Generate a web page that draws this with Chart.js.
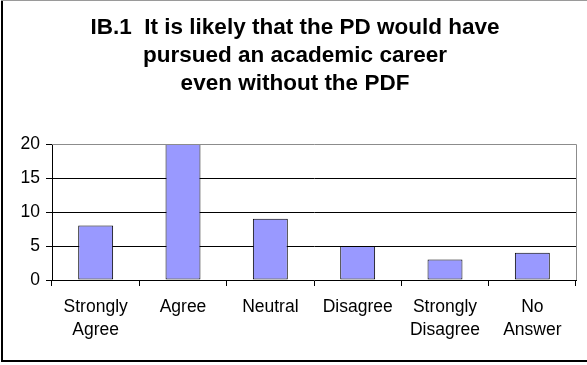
<!DOCTYPE html>
<html>
<head>
<meta charset="utf-8">
<script src="https://cdn.jsdelivr.net/npm/chart.js@4"></script>
<style>
  html, body { margin: 0; padding: 0; background: #ffffff; }
  #wrap { width: 587px; height: 365px; position: relative; }
  canvas { display: block; }
</style>
</head>
<body>
<div id="wrap"><canvas id="chart" width="587" height="365"></canvas></div>
<script>
// Survey answers for statement IB.1
const categories = [["Strongly", "Agree"], "Agree", "Neutral", "Disagree", ["Strongly", "Disagree"], ["No", "Answer"]];
const responses = [8, 20, 9, 5, 3, 4];
const yTickValues = [0, 5, 10, 15, 20];
const titleLines = [
  "IB.1  It is likely that the PD would have",
  "pursued an academic career",
  "even without the PDF"
];

const FONT = "'Liberation Sans', Arial, Helvetica, sans-serif";

// Frame around the whole figure, plus the grey top/right edges of the plot area
const framePlugin = {
  id: "frame",
  afterDraw(chart) {
    const ctx = chart.ctx;
    const a = chart.chartArea;
    ctx.save();
    // plot area border (top and right)
    ctx.strokeStyle = "#8c8c8c";
    ctx.lineWidth = 1;
    ctx.beginPath();
    ctx.moveTo(a.left, Math.round(a.top) + 0.5);
    ctx.lineTo(Math.round(a.right) + 0.5, Math.round(a.top) + 0.5);
    ctx.lineTo(Math.round(a.right) + 0.5, Math.round(a.bottom));
    ctx.stroke();
    // outer frame
    ctx.strokeStyle = "#000000";
    ctx.lineWidth = 2;
    ctx.beginPath();
    ctx.moveTo(2, 1);
    ctx.lineTo(2, 361);
    ctx.lineTo(chart.width + 2, 361);
    ctx.stroke();
    ctx.strokeStyle = "#9a9a9a";
    ctx.lineWidth = 1;
    ctx.beginPath();
    ctx.moveTo(1, 0.5);
    ctx.lineTo(chart.width, 0.5);
    ctx.stroke();
    ctx.restore();
  }
};

new Chart(document.getElementById("chart"), {
  type: "bar",
  data: {
    labels: categories,
    datasets: [{
      data: responses,
      backgroundColor: "#9999ff",
      borderColor: "#000000",
      borderWidth: 1,
      borderSkipped: false,
      categoryPercentage: 1.0,
      barPercentage: 0.4
    }]
  },
  options: {
    responsive: false,
    animation: false,
    devicePixelRatio: 1,
    layout: { padding: { left: 14, right: 11, top: 0, bottom: 0 } },
    plugins: {
      legend: { display: false },
      tooltip: { enabled: false },
      title: {
        display: true,
        text: titleLines,
        color: "#000000",
        font: { family: FONT, size: 22.5, weight: "bold", lineHeight: "28px" },
        padding: { top: 14, bottom: 46 }
      }
    },
    scales: {
      x: {
        offset: true,
        grid: {
          offset: true,
          drawOnChartArea: false,
          drawTicks: true,
          tickLength: 6,
          tickColor: "#000000",
          color: "#000000"
        },
        border: { color: "#000000", width: 1 },
        ticks: {
          color: "#000000",
          font: { family: FONT, size: 17.5, lineHeight: "23px" },
          padding: 10,
          maxRotation: 0,
          autoSkip: false
        },
        afterFit(scale) { scale.height = 85; }
      },
      y: {
        min: 0,
        max: 20,
        afterBuildTicks(scale) {
          scale.ticks = yTickValues.map(v => ({ value: v }));
        },
        grid: {
          color(ctx) {
            const v = ctx.tick && ctx.tick.value;
            if (v === 0 || v === 20) return "rgba(0,0,0,0)";
            return "#000000";
          },
          lineWidth: 1,
          drawTicks: true,
          tickLength: 6,
          tickColor: "#000000"
        },
        border: { color: "#000000", width: 1 },
        ticks: {
          color: "#000000",
          font: { family: FONT, size: 17.5 },
          padding: 6
        },
        afterFit(scale) { scale.width = 38; }
      }
    }
  },
  plugins: [framePlugin]
});
</script>
</body>
</html>
